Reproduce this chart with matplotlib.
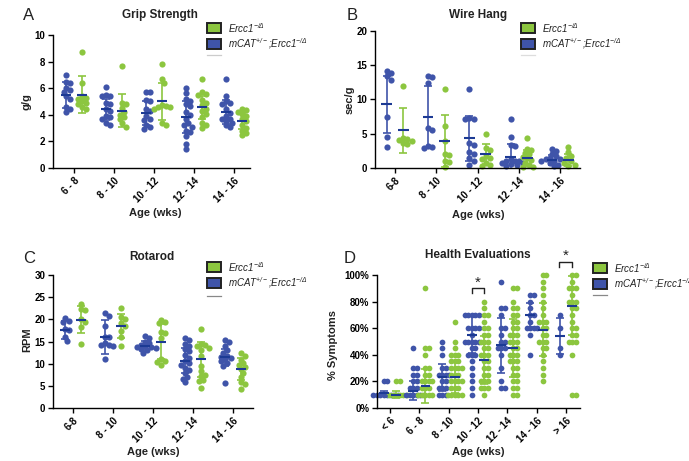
import numpy as np
import matplotlib.pyplot as plt
from matplotlib.patches import Rectangle
from matplotlib.lines import Line2D

plt.rcParams['font.family'] = 'Liberation Sans'
plt.rcParams['mathtext.fontset'] = 'custom'
plt.rcParams['mathtext.it'] = 'Liberation Sans:italic'
plt.rcParams['mathtext.rm'] = 'Liberation Sans:italic'

BLUE = '#3f54a9'
GREEN = '#8cc63f'
MEANC = '#1c3a94'
W, H = 689, 461

ages5_a = ['6 - 8', '8 - 10', '10 - 12', '12 - 14', '14 - 16']
ages5_b = ['6-8', '8 - 10', '10 - 12', '12 - 14', '14 - 16']
ages7 = ['< 6', '6 - 8', '8 - 10', '10 - 12', '12 - 14', '14 - 16', '> 16']

# Grip strength (g/g)
grip_mcat = [
    [7.0, 6.5, 6.4, 6.0, 5.9, 5.7, 5.4, 5.2, 4.6, 4.4, 4.2],
    [6.1, 5.5, 5.45, 5.4, 4.9, 4.8, 4.4, 4.3, 3.9, 3.8, 3.65, 3.35, 3.2],
    [5.7, 5.7, 5.1, 5.0, 4.4, 4.3, 3.9, 3.7, 3.6, 3.2, 3.1, 2.9],
    [6.0, 5.65, 5.2, 5.0, 4.8, 4.65, 4.2, 3.95, 3.65, 3.35, 3.2, 3.1, 2.75, 2.7, 2.4, 1.8, 1.45],
    [6.7, 5.45, 5.0, 4.9, 4.8, 4.4, 4.15, 3.9, 3.7, 3.65, 3.55, 3.4, 3.2, 3.05],
]
grip_ercc = [
    [8.7, 6.4, 5.4, 5.3, 5.2, 5.0, 4.9, 4.8, 4.6, 4.4],
    [7.65, 4.9, 4.8, 4.5, 4.2, 4.0, 3.85, 3.65, 3.35, 3.1],
    [7.8, 6.7, 6.4, 4.7, 4.65, 4.6, 4.55, 4.4, 3.35, 3.25],
    [6.7, 5.75, 5.6, 5.5, 5.1, 4.85, 4.7, 4.45, 4.3, 4.05, 3.8, 3.35, 3.25, 3.0],
    [4.45, 4.35, 4.2, 4.05, 3.9, 3.65, 3.5, 3.25, 3.0, 2.8, 2.65, 2.45],
]
grip_mcat_mean = [5.5, 4.4, 4.15, 3.8, 4.2]
grip_mcat_sd = [1.0, 0.8, 0.9, 1.2, 0.9]
grip_ercc_mean = [5.5, 4.3, 5.0, 4.55, 3.5]
grip_ercc_sd = [1.4, 1.25, 1.4, 0.9, 0.6]

# Wire hang (sec/g)
wire_mcat = [
    [14.1, 13.9, 13.4, 12.9, 7.5, 4.5, 3.1],
    [13.5, 13.3, 12.4, 5.9, 5.6, 3.2, 3.0, 2.9],
    [11.5, 7.3, 7.2, 7.1, 3.6, 3.4, 2.4, 2.0, 1.5, 1.0, 0.5],
    [7.2, 4.5, 3.3, 3.2, 1.3, 1.0, 1.0, 1.0, 0.8, 0.7, 0.6, 0.4, 0.3],
    [2.75, 2.5, 2.1, 1.7, 1.5, 1.3, 1.3, 1.0, 1.0, 0.8, 0.5, 0.3],
]
wire_ercc = [
    [12.0, 4.4, 4.3, 4.1, 3.9, 3.7, 3.5],
    [11.5, 6.2, 4.0, 2.0, 1.9, 1.0, 0.9, 0.1],
    [5.0, 2.9, 2.7, 1.7, 1.5, 1.3, 0.8, 0.5, 0.3],
    [4.35, 2.8, 2.6, 2.2, 2.0, 1.6, 1.4, 1.1, 0.8, 0.5, 0.2, 0.1],
    [3.0, 2.3, 1.7, 1.4, 1.0, 0.8, 0.5, 0.3],
]
wire_mcat_mean = [9.3, 7.4, 4.35, 1.6, 1.2]
wire_mcat_sd = [4.2, 4.5, 3.3, 1.9, 0.7]
wire_ercc_mean = [5.5, 3.9, 2.05, 1.45, 1.2]
wire_ercc_sd = [3.3, 3.8, 1.5, 1.2, 0.9]

# Rotarod (RPM)
rota_mcat = [
    [20.3, 19.6, 19.5, 17.8, 17.6, 16.1, 15.2],
    [21.5, 20.8, 18.6, 16.1, 16.0, 14.6, 14.25, 14.1, 13.9, 11.0],
    [16.3, 15.75, 15.0, 14.6, 14.25, 13.9, 13.7, 13.7, 13.5, 13.3, 13.0, 12.5],
    [15.75, 15.4, 14.5, 13.9, 13.3, 12.75, 12.0, 11.25, 10.5, 10.1, 9.75, 9.0, 8.6, 7.9, 7.1, 6.6, 5.8],
    [15.4, 15.0, 13.9, 13.1, 12.4, 11.8, 11.5, 11.25, 11.0, 10.5, 10.1, 9.4, 5.6],
]
rota_ercc = [
    [23.5, 22.3, 22.1, 20.0, 19.5, 18.2, 14.5],
    [22.5, 20.5, 20.0, 19.1, 18.4, 17.4, 16.0, 14.0],
    [19.9, 19.5, 19.1, 17.25, 16.9, 15.75, 11.0, 10.5, 10.3, 9.75],
    [17.8, 14.5, 14.25, 13.9, 13.6, 13.1, 11.8, 9.4, 8.25, 7.5, 7.25, 6.4, 6.0, 4.5],
    [12.5, 11.8, 10.9, 10.1, 9.75, 9.2, 8.8, 8.0, 7.1, 5.8, 5.5, 4.3],
]
rota_mcat_mean = [17.6, 16.0, 13.9, 10.7, 11.4]
rota_mcat_sd = [2.0, 3.9, 1.2, 2.9, 2.0]
rota_ercc_mean = [19.9, 18.5, 15.0, 11.0, 8.8]
rota_ercc_sd = [3.0, 2.6, 3.9, 3.9, 2.4]

# Health evaluations (% symptoms)
health_mcat = [
    [20, 20, 10, 10, 10, 10, 10, 10, 10, 10],
    [45, 30, 30, 25, 25, 20, 20, 15, 15, 15, 10, 10, 10, 10, 10, 10],
    [50, 45, 40, 30, 30, 25, 25, 25, 25, 20, 20, 15, 15, 15, 10, 10, 10],
    [70, 70, 70, 70, 70, 60, 60, 60, 60, 55, 50, 50, 50, 50, 50, 45, 45, 40, 40, 40, 35, 30, 25, 20, 15, 10],
    [95, 75, 75, 70, 60, 60, 55, 50, 50, 45, 45, 45, 40, 30, 20, 15, 15],
    [85, 85, 80, 75, 70, 70, 65, 60, 60, 60, 60, 55, 40],
    [70, 60, 45, 40],
]
health_ercc = [
    [20, 20, 10, 10, 10, 10, 10, 10],
    [90, 45, 45, 40, 30, 30, 25, 25, 20, 20, 20, 20, 15, 15, 15, 10, 10, 10, 10, 10],
    [65, 50, 45, 40, 40, 40, 35, 35, 35, 30, 30, 30, 30, 25, 25, 25, 20, 20, 20, 20, 15, 15, 15, 10, 10, 10, 10, 10],
    [80, 75, 70, 70, 65, 60, 60, 55, 55, 50, 50, 50, 45, 45, 40, 40, 40, 35, 35, 30, 30, 25, 25, 20, 20, 20, 15, 15, 15, 10],
    [90, 90, 80, 75, 75, 70, 70, 65, 65, 60, 60, 55, 55, 55, 50, 50, 50, 45, 45, 40, 40, 40, 35, 35, 35, 30, 30, 25, 25, 20, 20, 15, 15, 10, 10],
    [100, 100, 95, 90, 85, 80, 75, 70, 65, 65, 65, 60, 60, 55, 55, 50, 50, 50, 45, 45, 40, 35, 30, 25, 20],
    [100, 100, 95, 90, 90, 90, 85, 80, 80, 80, 75, 75, 70, 65, 60, 60, 55, 55, 50, 50, 50, 40, 10, 10],
]
health_mcat_mean = [11, 13, 23, 55, 47, 70, 54]
health_mcat_sd = [2, 7, 10, 14, 21, 9, 13.5]
health_ercc_mean = [10, 16.5, 23.5, 36, 45, 59, 77]
health_ercc_sd = [2.5, 13, 12, 18, 22, 20, 22]

fig = plt.figure(figsize=(W / 100, H / 100), dpi=100)


def fx(x):
    return x / W


def fy(y):
    return 1 - y / H


def make_ax(l, r, t, b, xlim, ylim, yticks, ylabels, xlabels):
    ax = fig.add_axes([fx(l), fy(b), (r - l) / W, (b - t) / H])
    ax.set_xlim(*xlim)
    ax.set_ylim(*ylim)
    for s in ('top', 'right'):
        ax.spines[s].set_visible(False)
    for s in ('left', 'bottom'):
        ax.spines[s].set_linewidth(1.0)
    ax.set_yticks(yticks)
    ax.set_yticklabels(ylabels, fontsize=7, fontweight='bold')
    ax.set_xticks(range(len(xlabels)))
    ax.set_xticklabels(xlabels, fontsize=7, fontweight='bold', rotation=45,
                       ha='right', rotation_mode='anchor')
    ax.tick_params(length=3.5, width=1.0, pad=2)
    return ax


def swarm(ax, xc, vals, d):
    vals = np.asarray(vals, dtype=float)
    pts = ax.transData.transform(np.column_stack([np.full(len(vals), xc), vals]))
    inv = ax.transData.inverted()
    order = np.argsort(-vals, kind='stable')
    placed = []
    xs = np.zeros(len(vals))
    for i in order:
        px, py = pts[i]
        k = 0
        while True:
            off = ((k + 1) // 2) * (d / 2) * (1 if k % 2 else -1)
            ok = all((px + off - qx) ** 2 + (py - qy) ** 2 >= (0.98 * d) ** 2 for qx, qy in placed)
            if ok:
                break
            k += 1
        placed.append((px + off, py))
        xs[i] = inv.transform((px + off, py))[0]
    return xs


def panel(ax, mcat, ercc, m_mean, m_sd, e_mean, e_sd, d, ms, off=0.2, hw=0.13):
    for i in range(len(mcat)):
        for vals, o, col, mean, sd in ((mcat[i], -off, BLUE, m_mean[i], m_sd[i]),
                                       (ercc[i], off, GREEN, e_mean[i], e_sd[i])):
            xc = i + o
            xs = swarm(ax, xc, vals, d)
            ax.scatter(xs, vals, s=ms, color=col, lw=0, zorder=2, clip_on=False)
            ax.errorbar(xc, mean, yerr=sd, fmt='none', ecolor=col, elinewidth=1.2,
                        capsize=2.8, capthick=1.2, zorder=3)
            ax.hlines(mean, xc - hw, xc + hw, color=MEANC, lw=1.5, zorder=4)


def legend(x, y_green, y_blue, y_line, line_col):
    for yy, col in ((y_green, GREEN), (y_blue, BLUE)):
        fig.patches.append(Rectangle((fx(x), fy(yy + 4.8)), 14 / W, 9.5 / H, transform=fig.transFigure,
                                     facecolor=col, edgecolor='#222222', lw=1.4))
    fig.add_artist(Line2D([fx(x), fx(x + 14)], [fy(y_line), fy(y_line)], transform=fig.transFigure,
                          color=line_col, lw=0.9))
    fig.text(fx(x + 21), fy(y_green), r'Ercc1$^{-/\Delta}$', fontsize=7, style='italic',
             va='center', color='#222222')
    fig.text(fx(x + 21), fy(y_blue), r'mCAT$^{+/-}$;Ercc1$^{-/\Delta}$', fontsize=7, style='italic',
             va='center', color='#222222')


# A: grip strength
axA = make_ax(53, 250, 35, 168, (-0.525, 4.4), (0, 10), [0, 2, 4, 6, 8, 10],
              ['0', '2', '4', '6', '8', '10'], ages5_a)
panel(axA, grip_mcat, grip_ercc, grip_mcat_mean, grip_mcat_sd, grip_ercc_mean, grip_ercc_sd, 4.2, 20)

# B: wire hang
axB = make_ax(375, 580, 31, 168, (-0.484, 4.48), (0, 20), [0, 5, 10, 15, 20],
              ['0', '5', '10', '15', '20'], ages5_b)
panel(axB, wire_mcat, wire_ercc, wire_mcat_mean, wire_mcat_sd, wire_ercc_mean, wire_ercc_sd, 4.2, 20)

# C: rotarod
axC = make_ax(53, 253, 275, 408, (-0.5, 4.5), (0, 30), [0, 5, 10, 15, 20, 25, 30],
              ['0', '5', '10', '15', '20', '25', '30'], ages5_b)
panel(axC, rota_mcat, rota_ercc, rota_mcat_mean, rota_mcat_sd, rota_ercc_mean, rota_ercc_sd, 4.2, 20)

# D: health evaluations
axD = make_ax(377, 580, 275, 408, (-0.444, 6.48), (0, 100), [0, 20, 40, 60, 80, 100],
              ['0%', '20%', '40%', '60%', '80%', '100%'], ages7)
panel(axD, health_mcat, health_ercc, health_mcat_mean, health_mcat_sd, health_ercc_mean, health_ercc_sd,
      3.5, 17, off=0.21, hw=0.17)

# significance brackets
for xi, lo, hi in ((3, 86.5, 90), (6, 106, 110)):
    axD.plot([xi - 0.22, xi - 0.22, xi + 0.22, xi + 0.22], [lo, hi, hi, lo], color='#222222', lw=1.0,
             clip_on=False, zorder=5)
    axD.text(xi, hi - 1, '*', ha='center', va='bottom', fontsize=11, color='#222222', clip_on=False)

# titles, panel letters, axis labels
for x, y, s in ((160, 15, 'Grip Strength'), (478, 15, 'Wire Hang'), (152, 257, 'Rotarod'),
                (478, 255, 'Health Evaluations')):
    fig.text(fx(x), fy(y), s, ha='center', va='center', fontsize=8.5, fontweight='bold', color='#222222')
for x, y, s in ((29, 15, 'A'), (352, 15, 'B'), (29, 258, 'C'), (350, 258, 'D')):
    fig.text(fx(x), fy(y), s, ha='center', va='center', fontsize=12, color='#222222')
for x, y in ((155, 213), (478, 215), (153, 452), (478, 452)):
    fig.text(fx(x), fy(y), 'Age (wks)', ha='center', va='center', fontsize=8, fontweight='bold',
             color='#222222')
for x, y, s in ((27, 102, 'g/g'), (350, 100, 'sec/g'), (27, 340, 'RPM'), (333, 345, '% Symptoms')):
    fig.text(fx(x), fy(y), s, ha='center', va='center', rotation=90, fontsize=8, fontweight='bold',
             color='#222222')

legend(207, 28, 44, 55, '#cccccc')
legend(521, 28, 44, 55, '#dddddd')
legend(207, 267, 283, 296, '#888888')
legend(593, 268, 284, 295, '#888888')

fig.savefig('out.png', dpi=100)
